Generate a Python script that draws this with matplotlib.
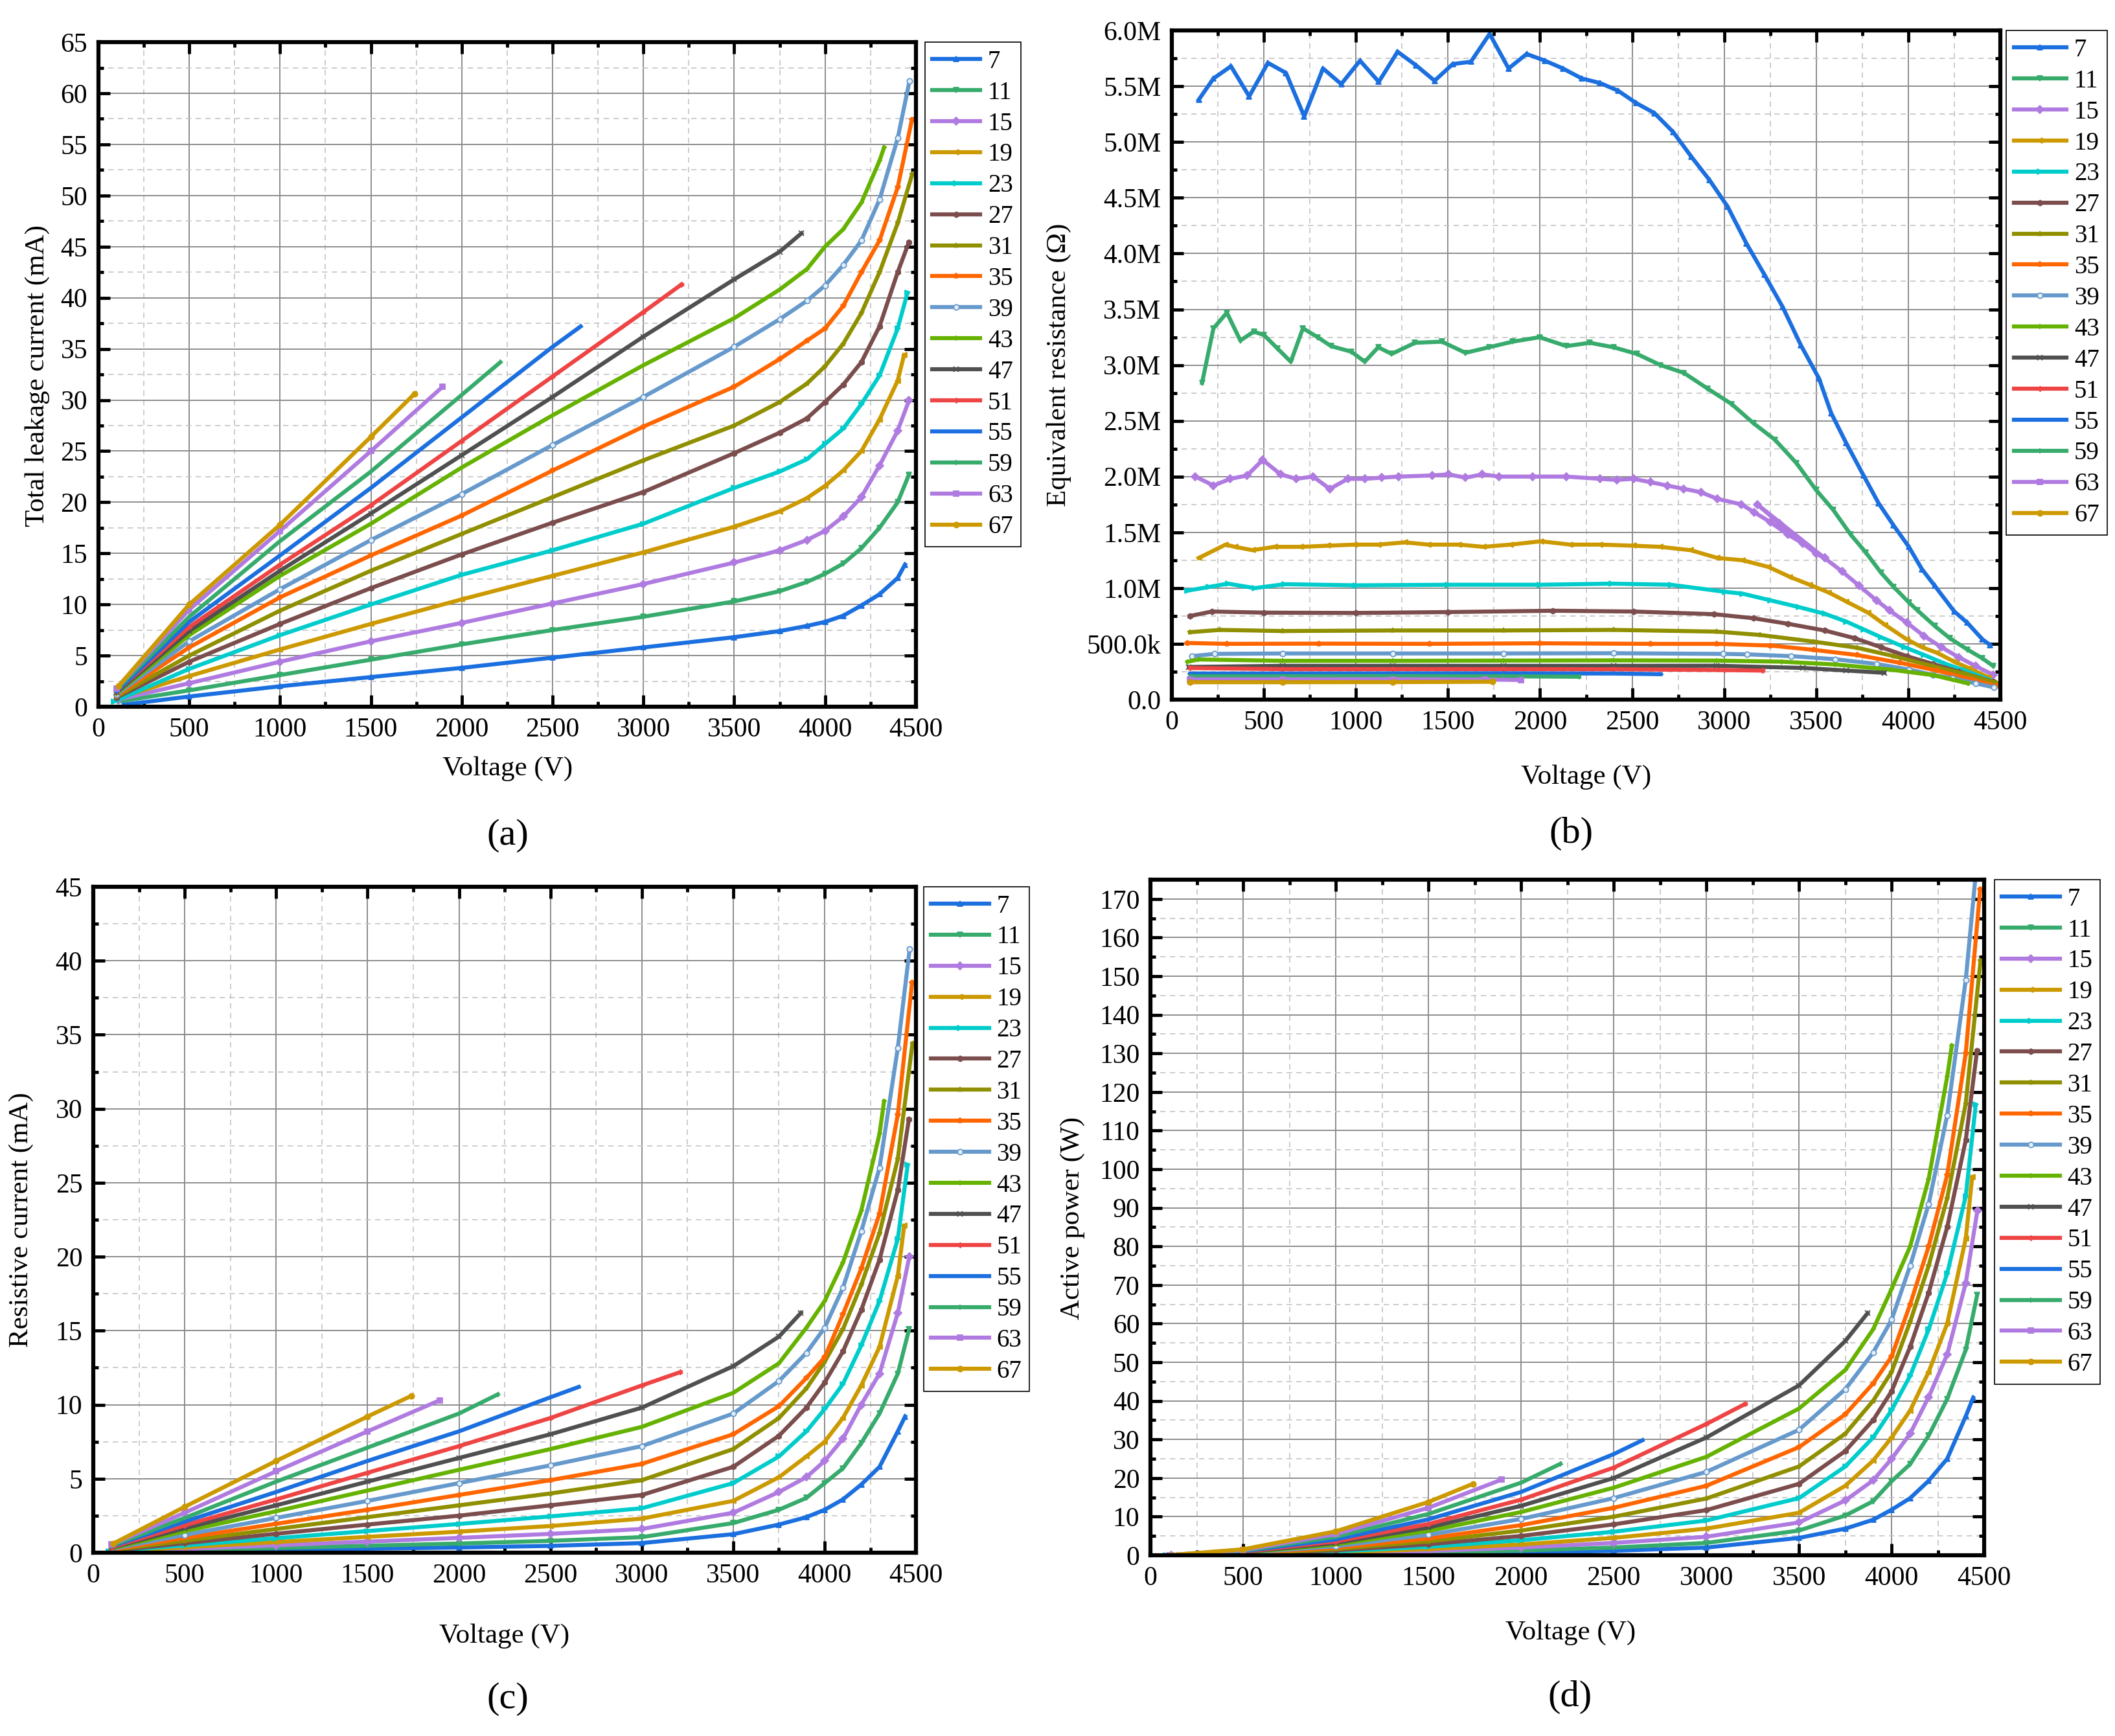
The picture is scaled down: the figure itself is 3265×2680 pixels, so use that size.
import matplotlib.pyplot as plt
from matplotlib.ticker import MultipleLocator, FuncFormatter

plt.rcParams['font.family'] = ['Liberation Serif', 'DejaVu Serif']

# series names (legend) and Origin-like styles
labels = ['7', '11', '15', '19', '23', '27', '31', '35', '39', '43', '47', '51', '55', '59', '63', '67']
colors = ['#1b6fdf', '#37ab6c', '#b07be0', '#cc9900', '#00cccc', '#7b4d4d', '#8f8f00', '#ff6600',
          '#6699cc', '#66b200', '#505050', '#ee4444', '#1b6fdf', '#37ab6c', '#b07be0', '#cc9900']
markers = ['^', 'v', 'D', '<', '>', 'h', '*', 'p', 'o', '+', 'x', (6, 2, 0), '_', '|', 's', 'o']

# voltage points (V) shared by panels a, c, d
volt = [
    [140, 500, 1000, 1500, 2000, 2500, 3000, 3500, 3750, 3900, 4000, 4100, 4200, 4300, 4400, 4440],
    [110, 500, 1000, 1500, 2000, 2500, 3000, 3500, 3750, 3900, 4000, 4100, 4200, 4300, 4400, 4462],
    [110, 500, 1000, 1500, 2000, 2500, 3000, 3500, 3750, 3900, 4000, 4100, 4200, 4300, 4400, 4463],
    [100, 500, 1000, 1500, 2000, 2500, 3000, 3500, 3750, 3900, 4000, 4100, 4200, 4300, 4400, 4435],
    [85, 500, 1000, 1500, 2000, 2500, 3000, 3500, 3750, 3900, 4000, 4100, 4200, 4300, 4400, 4454],
    [100, 500, 1000, 1500, 2000, 2500, 3000, 3500, 3750, 3900, 4000, 4100, 4200, 4300, 4400, 4461],
    [100, 500, 1000, 1500, 2000, 2500, 3000, 3500, 3750, 3900, 4000, 4100, 4200, 4300, 4400, 4480],
    [100, 500, 1000, 1500, 2000, 2500, 3000, 3500, 3750, 3900, 4000, 4100, 4200, 4300, 4400, 4478],
    [100, 500, 1000, 1500, 2000, 2500, 3000, 3500, 3750, 3900, 4000, 4100, 4200, 4300, 4400, 4465],
    [100, 500, 1000, 1500, 2000, 2500, 3000, 3500, 3750, 3900, 4000, 4100, 4200, 4300, 4325],
    [100, 500, 1000, 1500, 2000, 2500, 3000, 3500, 3750, 3870],
    [100, 500, 1000, 1500, 2000, 2500, 3000, 3210],
    [100, 500, 1000, 1500, 2000, 2500, 2655],
    [100, 500, 1000, 1500, 2000, 2213],
    [100, 500, 1000, 1500, 1895],
    [110, 500, 1000, 1500, 1740],
]

# (a) total leakage current, mA
i_total = [
    [0.2, 1.0, 2.0, 2.9, 3.8, 4.8, 5.8, 6.8, 7.4, 7.9, 8.3, 8.9, 9.9, 11.0, 12.6, 13.9],
    [0.5, 1.6, 3.1, 4.6, 6.1, 7.5, 8.8, 10.3, 11.3, 12.2, 13.0, 14.0, 15.5, 17.5, 20.0, 22.7],
    [0.7, 2.3, 4.4, 6.4, 8.2, 10.1, 12.0, 14.1, 15.3, 16.3, 17.2, 18.6, 20.5, 23.6, 27.0, 30.0],
    [0.8, 3.0, 5.6, 8.1, 10.5, 12.8, 15.1, 17.6, 19.1, 20.4, 21.6, 23.1, 25.0, 28.1, 31.9, 34.4],
    [0.5, 3.7, 7.0, 10.0, 12.9, 15.3, 17.9, 21.4, 23.0, 24.2, 25.7, 27.2, 29.6, 32.4, 37.0, 40.5],
    [0.9, 4.4, 8.1, 11.6, 14.9, 18.0, 21.0, 24.8, 26.8, 28.2, 29.8, 31.5, 33.7, 37.2, 42.5, 45.4],
    [1.0, 5.0, 9.4, 13.3, 16.9, 20.5, 24.1, 27.5, 29.8, 31.6, 33.3, 35.5, 38.5, 42.5, 47.3, 52.1],
    [1.1, 5.8, 10.7, 14.8, 18.7, 23.1, 27.4, 31.3, 34.0, 35.8, 37.0, 39.2, 42.5, 45.6, 50.8, 57.4],
    [1.2, 6.4, 11.5, 16.3, 20.8, 25.6, 30.3, 35.2, 37.9, 39.7, 41.2, 43.2, 45.6, 49.6, 55.6, 61.2],
    [1.3, 7.0, 12.8, 17.9, 23.4, 28.5, 33.4, 38.0, 40.8, 42.8, 45.0, 46.7, 49.3, 53.4, 54.7],
    [1.4, 7.4, 13.3, 18.9, 24.6, 30.3, 36.2, 41.8, 44.5, 46.3],
    [1.5, 7.8, 13.9, 19.7, 26.0, 32.3, 38.6, 41.3],
    [1.5, 8.3, 14.8, 21.4, 28.3, 35.2, 37.2],
    [1.7, 8.8, 16.2, 23.0, 30.5, 33.7],
    [1.8, 9.5, 17.2, 25.0, 31.3],
    [2.0, 10.0, 17.8, 26.4, 30.6],
]

# (c) resistive current, mA
i_res = [
    [0.02, 0.09, 0.18, 0.27, 0.35, 0.46, 0.65, 1.25, 1.9, 2.4, 2.9, 3.6, 4.6, 5.8, 8.2, 9.2],
    [0.035, 0.16, 0.32, 0.47, 0.62, 0.8, 1.05, 2.0, 2.9, 3.7, 4.7, 5.7, 7.4, 9.4, 12.1, 15.1],
    [0.05, 0.25, 0.5, 0.75, 1.0, 1.27, 1.6, 2.7, 4.1, 5.1, 6.2, 7.7, 10.0, 12.1, 16.2, 20.0],
    [0.08, 0.36, 0.72, 1.07, 1.42, 1.8, 2.3, 3.5, 5.1, 6.5, 7.5, 9.1, 11.3, 13.9, 18.7, 22.1],
    [0.1, 0.49, 0.98, 1.46, 1.94, 2.45, 3.0, 4.7, 6.5, 8.2, 9.7, 11.4, 14.0, 17.0, 21.2, 26.2],
    [0.13, 0.64, 1.28, 1.9, 2.5, 3.2, 3.9, 5.8, 7.9, 9.8, 11.5, 13.6, 16.4, 19.8, 24.5, 29.3],
    [0.17, 0.8, 1.6, 2.4, 3.2, 4.0, 4.9, 7.0, 9.1, 11.1, 12.9, 15.1, 18.1, 21.6, 26.6, 34.4],
    [0.2, 1.0, 1.95, 2.9, 3.9, 4.9, 6.0, 8.0, 9.9, 11.8, 13.2, 16.1, 19.2, 22.9, 29.6, 38.5],
    [0.25, 1.2, 2.35, 3.5, 4.7, 5.9, 7.2, 9.4, 11.6, 13.5, 15.2, 17.9, 21.7, 26.0, 34.1, 40.8],
    [0.29, 1.45, 2.8, 4.2, 5.6, 7.0, 8.5, 10.8, 12.8, 15.2, 17.0, 19.6, 23.1, 28.3, 30.5],
    [0.34, 1.65, 3.2, 4.8, 6.4, 8.0, 9.8, 12.6, 14.6, 16.2],
    [0.37, 1.85, 3.6, 5.4, 7.2, 9.1, 11.3, 12.2],
    [0.43, 2.1, 4.1, 6.2, 8.2, 10.5, 11.2],
    [0.48, 2.35, 4.8, 7.1, 9.4, 10.7],
    [0.55, 2.7, 5.5, 8.2, 10.3],
    [0.62, 3.1, 6.2, 9.2, 10.6],
]

# (d) active power, W
p_act = [
    [0.003, 0.05, 0.18, 0.4, 0.7, 1.15, 2.0, 4.5, 6.9, 9.2, 11.8, 14.8, 19.3, 25.0, 36.0, 40.8],
    [0.004, 0.08, 0.32, 0.7, 1.25, 2.0, 3.2, 6.4, 10.3, 14.0, 19.2, 23.6, 31.0, 40.5, 53.2, 67.5],
    [0.006, 0.13, 0.5, 1.1, 2.0, 3.2, 4.8, 8.5, 14.2, 19.4, 25.0, 31.5, 41.0, 52.0, 70.5, 89.3],
    [0.008, 0.18, 0.72, 1.6, 2.8, 4.5, 6.9, 11.0, 18.0, 24.5, 30.5, 37.5, 47.5, 60.0, 82.0, 98.0],
    [0.009, 0.25, 0.98, 2.2, 3.9, 6.1, 9.0, 14.8, 23.0, 30.5, 37.6, 46.5, 58.5, 73.0, 93.0, 116.7],
    [0.013, 0.32, 1.28, 2.85, 5.0, 8.0, 11.7, 18.5, 27.0, 35.0, 42.5, 54.0, 68.0, 85.0, 107.5, 130.7],
    [0.017, 0.4, 1.6, 3.6, 6.4, 10.0, 14.7, 23.0, 31.5, 40.0, 47.5, 60.5, 75.0, 92.5, 117.0, 154.0],
    [0.02, 0.5, 1.95, 4.35, 7.8, 12.3, 18.0, 28.0, 36.5, 44.5, 51.5, 65.0, 80.0, 98.5, 130.0, 172.5],
    [0.025, 0.6, 2.35, 5.3, 9.4, 14.8, 21.6, 32.5, 43.0, 52.5, 61.0, 75.0, 91.0, 114.0, 149.0, 182.0],
    [0.03, 0.7, 2.8, 6.3, 11.2, 17.5, 25.5, 38.0, 48.0, 58.5, 69.0, 80.0, 97.5, 124.0, 132.0],
    [0.034, 0.8, 3.2, 7.2, 12.8, 20.0, 30.5, 44.0, 55.5, 62.7],
    [0.037, 0.9, 3.6, 8.1, 14.4, 22.7, 34.0, 39.2],
    [0.043, 1.05, 4.1, 9.3, 16.4, 26.2, 29.8],
    [0.048, 1.2, 4.8, 10.7, 18.8, 23.7],
    [0.055, 1.35, 5.5, 12.3, 19.6],
    [0.068, 1.55, 6.2, 13.8, 18.5],
]

# (b) voltage points and equivalent resistance (MOhm)
volt_b = [
    [146, 226, 321, 420, 522, 620, 719, 821, 920, 1022, 1124, 1226, 1325, 1427, 1526, 1624,
     1726, 1829, 1927, 2026, 2124, 2227, 2325, 2424, 2522, 2621, 2723, 2821, 2920, 3019, 3121,
     3219, 3318, 3416, 3515, 3581, 3663, 3757, 3839, 3921, 4003, 4074, 4144, 4250, 4320, 4403, 4444],
    [164, 226, 299, 372, 445, 500, 573, 646, 712, 792, 865, 975, 1048, 1121, 1194, 1321, 1467,
     1595, 1723, 1851, 1997, 2143, 2270, 2398, 2526, 2654, 2781, 2909, 3041, 3158, 3276, 3393,
     3499, 3593, 3687, 3769, 3851, 3921, 4004, 4050, 4144, 4226, 4320, 4403, 4462],
    [128, 226, 318, 409, 493, 591, 675, 767, 858, 956, 1048, 1139, 1230, 1413, 1504, 1595, 1686,
     1778, 1960, 2143, 2325, 2416, 2508, 2599, 2690, 2781, 2873, 2964, 3094, 3164, 3252, 3346,
     3428, 3499, 3545, 3180, 3300, 3420, 3545, 3640, 3734, 3827, 3898, 3992, 4086, 4180, 4274,
     4367, 4463],
    [146, 292, 343, 438, 558, 700, 847, 993, 1121, 1267, 1394, 1559, 1694, 1840, 2004, 2164, 2325,
     2508, 2654, 2818, 2964, 3100, 3240, 3358, 3464, 3569, 3663, 3781, 3874, 3992, 4074, 4156,
     4250, 4332, 4435],
    [85, 200, 305, 450, 611, 1000, 1500, 2000, 2390, 2711, 3003, 3100, 3252, 3405, 3546, 3663,
     3757, 3851, 3980, 4086, 4203, 4309, 4454],
    [100, 217, 500, 1000, 1500, 2069, 2507, 2945, 3158, 3346, 3546, 3710, 3851, 3992, 4133, 4274, 4461],
    [100, 261, 600, 1200, 1800, 2400, 2959, 3194, 3487, 3722, 3921, 4133, 4309, 4480],
    [86, 300, 800, 1400, 2000, 2600, 2959, 3252, 3487, 3722, 3956, 4156, 4344, 4478],
    [109, 232, 600, 1200, 1800, 2400, 2994, 3123, 3364, 3604, 3827, 4004, 4133, 4238, 4367, 4465],
    [86, 144, 600, 1200, 1800, 2400, 2959, 3311, 3604, 3898, 4133, 4325],
    [92, 600, 1200, 1800, 2400, 2959, 3428, 3663, 3870],
    [100, 600, 1200, 1800, 2400, 3000, 3210],
    [100, 600, 1200, 1800, 2400, 2655],
    [100, 600, 1200, 1800, 2213],
    [100, 600, 1200, 1700, 1895],
    [100, 600, 1200, 1740],
]
r_eq = [
    [5.38, 5.57, 5.68, 5.41, 5.71, 5.62, 5.23, 5.66, 5.52, 5.73, 5.54, 5.81, 5.69, 5.55, 5.70, 5.72,
     5.97, 5.66, 5.79, 5.73, 5.66, 5.57, 5.53, 5.46, 5.35, 5.26, 5.09, 4.87, 4.66, 4.42, 4.09,
     3.81, 3.52, 3.18, 2.88, 2.57, 2.30, 2.01, 1.76, 1.56, 1.37, 1.17, 1.02, 0.79, 0.69, 0.54, 0.49],
    [2.84, 3.33, 3.47, 3.22, 3.30, 3.27, 3.15, 3.03, 3.33, 3.25, 3.17, 3.12, 3.03, 3.16, 3.10, 3.20,
     3.21, 3.11, 3.16, 3.21, 3.25, 3.17, 3.20, 3.16, 3.10, 3.00, 2.93, 2.79, 2.65, 2.48, 2.33, 2.12,
     1.88, 1.70, 1.48, 1.32, 1.14, 1.01, 0.87, 0.80, 0.66, 0.55, 0.45, 0.37, 0.30],
    [2.00, 1.92, 1.98, 2.01, 2.15, 2.02, 1.98, 2.00, 1.89, 1.98, 1.98, 1.99, 2.00, 2.01, 2.02, 1.99,
     2.02, 2.00, 2.00, 2.00, 1.98, 1.97, 1.98, 1.95, 1.92, 1.89, 1.86, 1.80, 1.75, 1.68, 1.59, 1.48,
     1.40, 1.31, 1.27, 1.75, 1.58, 1.42, 1.27, 1.15, 1.02, 0.89, 0.80, 0.69, 0.57, 0.47, 0.38,
     0.30, 0.22],
    [1.27, 1.39, 1.37, 1.34, 1.37, 1.37, 1.38, 1.39, 1.39, 1.41, 1.39, 1.39, 1.37, 1.39, 1.42, 1.39,
     1.39, 1.38, 1.37, 1.34, 1.27, 1.25, 1.19, 1.10, 1.03, 0.96, 0.88, 0.78, 0.67, 0.54, 0.47, 0.42,
     0.34, 0.28, 0.20],
    [0.977, 1.01, 1.04, 1.00, 1.035, 1.025, 1.03, 1.03, 1.04, 1.03, 0.967, 0.95, 0.89, 0.83, 0.77,
     0.70, 0.63, 0.56, 0.47, 0.40, 0.32, 0.26, 0.17],
    [0.75, 0.79, 0.78, 0.777, 0.785, 0.797, 0.79, 0.766, 0.73, 0.68, 0.62, 0.55, 0.47, 0.39, 0.32,
     0.25, 0.16],
    [0.605, 0.625, 0.615, 0.62, 0.62, 0.625, 0.61, 0.58, 0.52, 0.465, 0.39, 0.30, 0.23, 0.15],
    [0.508, 0.50, 0.502, 0.50, 0.505, 0.50, 0.50, 0.485, 0.446, 0.40, 0.33, 0.26, 0.18, 0.12],
    [0.39, 0.41, 0.414, 0.414, 0.414, 0.416, 0.41, 0.406, 0.39, 0.362, 0.32, 0.27, 0.222, 0.193,
     0.145, 0.11],
    [0.34, 0.36, 0.348, 0.348, 0.35, 0.352, 0.35, 0.34, 0.315, 0.27, 0.22, 0.145],
    [0.293, 0.303, 0.303, 0.303, 0.303, 0.304, 0.284, 0.261, 0.24],
    [0.283, 0.273, 0.273, 0.273, 0.272, 0.265, 0.26],
    [0.234, 0.234, 0.235, 0.236, 0.234, 0.228],
    [0.209, 0.209, 0.21, 0.209, 0.205],
    [0.182, 0.182, 0.183, 0.18, 0.176],
    [0.156, 0.156, 0.157, 0.16],
]


def res_fmt(v, pos):
    if abs(v) < 1:
        return '0.0'
    if v < 1e6:
        return f'{v / 1e3:.1f}k'
    return f'{v / 1e6:.1f}M'


def draw_panel(ax, xs, ys, ylim, ymajor, yminor, scale=1.0):
    for k in range(len(labels)):
        face = '#e6eef8' if k == 8 else colors[k]
        ax.plot(xs[k], [y * scale for y in ys[k]], color=colors[k], lw=4.5,
                marker=markers[k], ms=6, mfc=face, mec=colors[k], mew=1.3, label=labels[k])
    ax.set_xlim(0, 4500)
    ax.set_ylim(*ylim)
    ax.xaxis.set_major_locator(MultipleLocator(500))
    ax.xaxis.set_minor_locator(MultipleLocator(250))
    ax.yaxis.set_major_locator(MultipleLocator(ymajor))
    ax.yaxis.set_minor_locator(MultipleLocator(yminor))
    ax.grid(True, which='major', color='#8c8c8c', lw=1.4)
    ax.grid(True, which='minor', color='#c4c4c4', lw=1.2, ls=(0, (5, 4)))
    ax.set_axisbelow(True)
    for s in ax.spines.values():
        s.set_linewidth(4.5)
    ax.tick_params(which='both', direction='in', top=True, right=True, labelsize=30, pad=12)
    ax.tick_params(which='major', length=13, width=3.5)
    ax.tick_params(which='minor', length=6, width=3.5)


def add_legend(ax, bx, by, hl):
    leg = ax.legend(loc='upper left', bbox_to_anchor=(bx, by), borderaxespad=0, fontsize=28,
                    frameon=True, fancybox=False, edgecolor='black', framealpha=1,
                    handlelength=hl, handletextpad=0.3, labelspacing=0.28, borderpad=0.3,
                    numpoints=1)
    leg.get_frame().set_linewidth(1.2)


fig = plt.figure(figsize=(32.66, 26.80), dpi=100)

ax_a = fig.add_axes([0.0465, 0.5929, 0.3864, 0.3828])
draw_panel(ax_a, volt, i_total, (0, 65), 5, 2.5)
add_legend(ax_a, 1.011, 1.0, 1.9)

ax_b = fig.add_axes([0.5539, 0.5970, 0.3916, 0.3854])
draw_panel(ax_b, volt_b, r_eq, (0, 6.0e6), 0.5e6, 0.25e6, scale=1e6)
ax_b.yaxis.set_major_formatter(FuncFormatter(res_fmt))
add_legend(ax_b, 1.007, 1.0, 2.1)

ax_c = fig.add_axes([0.0441, 0.1056, 0.3889, 0.3836])
draw_panel(ax_c, volt, i_res, (0, 45), 5, 2.5)
add_legend(ax_c, 1.009, 1.0, 2.3)

ax_d = fig.add_axes([0.5438, 0.1041, 0.3941, 0.3892])
draw_panel(ax_d, volt, p_act, (0, 175), 10, 5)
add_legend(ax_d, 1.012, 1.0, 2.3)

lab = dict(fontsize=31, ha='center', va='center')
fig.text(0.2400, 0.5571, 'Voltage (V)', **lab)
fig.text(0.0178, 0.7836, 'Total leakage current (mA)', rotation=90, **lab)
fig.text(0.7498, 0.5522, 'Voltage (V)', **lab)
fig.text(0.5006, 0.7899, 'Equivalent resistance (\u03a9)', rotation=90, **lab)
fig.text(0.2385, 0.0575, 'Voltage (V)', **lab)
fig.text(0.0100, 0.2974, 'Resistive current (mA)', rotation=90, **lab)
fig.text(0.7425, 0.0593, 'Voltage (V)', **lab)
fig.text(0.5070, 0.2985, 'Active power (W)', rotation=90, **lab)

tag = dict(fontsize=42, ha='center', va='center')
fig.text(0.2400, 0.5187, '(a)', **tag)
fig.text(0.7425, 0.5198, '(b)', **tag)
fig.text(0.2400, 0.0213, '(c)', **tag)
fig.text(0.7419, 0.0224, '(d)', **tag)

fig.savefig('out.png', dpi=100)
